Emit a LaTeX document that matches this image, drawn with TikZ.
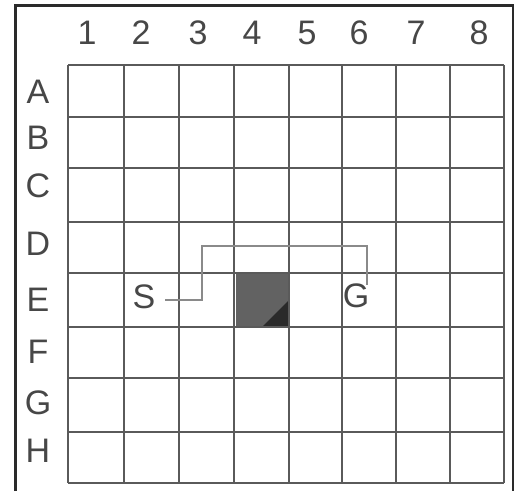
\documentclass[tikz,border=0pt]{standalone}
\usepackage{fontspec}
\newfontfamily\lblfont{Liberation Sans}
\definecolor{gridc}{HTML}{5A5A5A}
\definecolor{pathc}{HTML}{8A8A8A}
\definecolor{blockc}{HTML}{626262}
\definecolor{blockd}{HTML}{2A2A2A}
\definecolor{framec}{HTML}{2A2A2A}
\tikzset{
  lbl/.style={inner sep=0pt, font=\lblfont\fontsize{34}{34}\selectfont, text=black!72},
  gridline/.style={draw=gridc, line width=1.4pt},
  route/.style={draw=pathc, line width=1.3pt},
  frameline/.style={draw=framec, line width=3pt}
}
\begin{document}
\begin{tikzpicture}[x=1pt,y=-1pt]
\useasboundingbox (0,0) rectangle (514,491);
\fill[white] (0,0) rectangle (514,491);
% frame
\draw[frameline] (15,491) -- (15,5) -- (513,5) -- (513,491);
% obstacle
\fill[blockc] (236,273) rectangle (289,327);
\fill[blockd] (262,327) -- (289,327) -- (289,300) -- cycle;
% grid
\foreach \x in {68,124,179,234,289,342,396,450,504}
  \draw[gridline] (\x,65) -- (\x,483);
\foreach \y in {65,117,168,222,273,327,378,432,483}
  \draw[gridline] (68,\y) -- (504,\y);
% column labels
\node[lbl] (c1) at (87,33) {1};
\node[lbl] (c2) at (141,33) {2};
\node[lbl] (c3) at (198,33) {3};
\node[lbl] (c4) at (252,33) {4};
\node[lbl] (c5) at (307,33) {5};
\node[lbl] (c6) at (359,33) {6};
\node[lbl] (c7) at (416,33) {7};
\node[lbl] (c8) at (479,33) {8};
% row labels
\node[lbl] (rA) at (38,92) {A};
\node[lbl] (rB) at (38,138) {B};
\node[lbl] (rC) at (38,186) {C};
\node[lbl] (rD) at (38,244) {D};
\node[lbl] (rE) at (38,300) {E};
\node[lbl] (rF) at (38,352) {F};
\node[lbl] (rG) at (38,403) {G};
\node[lbl] (rH) at (38,451) {H};
% start and goal
\node[lbl] (S) at (144,297) {S};
\node[lbl] (G) at (356,296) {G};
% route
\coordinate (p0) at (165,300);
\coordinate (p1) at (202,300);
\coordinate (p2) at (202,246);
\coordinate (p3) at (367,246);
\coordinate (p4) at (367,285);
\draw[route] (p0) -- (p1) -- (p2) -- (p3) -- (p4);
\end{tikzpicture}
\end{document}
